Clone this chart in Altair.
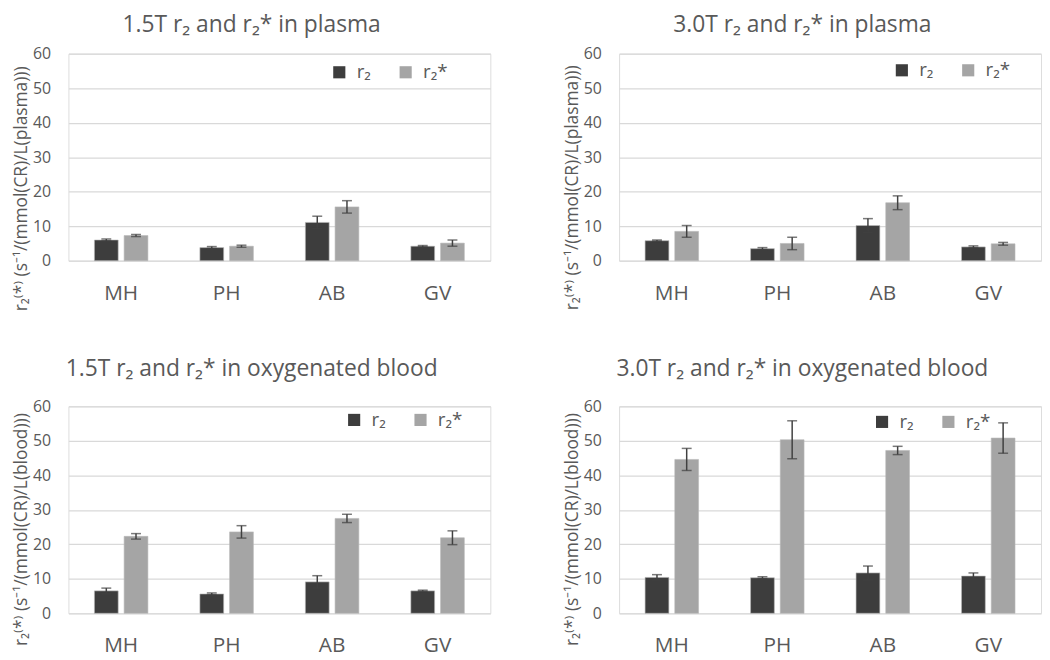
import altair as alt
import pandas as pd

categories = ["MH", "PH", "AB", "GV"]
series_names = ["r₂", "r₂*"]

titles = [
    "1.5T r₂ and r₂* in plasma",
    "3.0T r₂ and r₂* in plasma",
    "1.5T r₂ and r₂* in oxygenated blood",
    "3.0T r₂ and r₂* in oxygenated blood",
]
y_titles = [
    "r₂⁽*⁾ (s⁻¹/(mmol(CR)/L(plasma)))",
    "r₂⁽*⁾ (s⁻¹/(mmol(CR)/L(plasma)))",
    "r₂⁽*⁾ (s⁻¹/(mmol(CR)/L(blood)))",
    "r₂⁽*⁾ (s⁻¹/(mmol(CR)/L(blood)))",
]
y_ticks = [0, 10, 20, 30, 40, 50, 60]

# 1.5T plasma
p15_r2 = [6.0, 3.8, 11.1, 4.2]
p15_r2_err = [0.3, 0.3, 1.8, 0.2]
p15_r2s = [7.3, 4.2, 15.6, 5.1]
p15_r2s_err = [0.3, 0.3, 1.8, 0.9]
# 3.0T plasma
p30_r2 = [5.8, 3.5, 10.2, 4.0]
p30_r2_err = [0.2, 0.3, 2.0, 0.3]
p30_r2s = [8.5, 5.0, 16.8, 4.9]
p30_r2s_err = [1.7, 1.8, 2.0, 0.4]
# 1.5T oxygenated blood
b15_r2 = [6.5, 5.6, 9.1, 6.5]
b15_r2_err = [0.8, 0.3, 1.8, 0.2]
b15_r2s = [22.3, 23.6, 27.5, 21.9]
b15_r2s_err = [0.8, 1.8, 1.2, 2.0]
# 3.0T oxygenated blood
b30_r2 = [10.4, 10.3, 11.7, 10.8]
b30_r2_err = [0.8, 0.3, 2.0, 0.9]
b30_r2s = [44.6, 50.3, 47.2, 50.8]
b30_r2s_err = [3.2, 5.5, 1.2, 4.4]

panels = [
    (p15_r2, p15_r2_err, p15_r2s, p15_r2s_err),
    (p30_r2, p30_r2_err, p30_r2s, p30_r2s_err),
    (b15_r2, b15_r2_err, b15_r2s, b15_r2s_err),
    (b30_r2, b30_r2_err, b30_r2s, b30_r2s_err),
]

legend_pos = [(264, 9), (276, 7), (279, 4), (256, 6)]
title_y = [136, 135, 124, 124]
title_off = [9, 9, 18, 18]

FONT = "Open Sans"
TXT = "#595959"
W, H = 426, 209


def make_panel(i):
    r2, r2e, r2s, r2se = panels[i]
    rows = []
    for k, c in enumerate(categories):
        rows.append({"cat": c, "series": series_names[0], "value": r2[k],
                     "lo": r2[k] - r2e[k], "hi": r2[k] + r2e[k]})
        rows.append({"cat": c, "series": series_names[1], "value": r2s[k],
                     "lo": r2s[k] - r2se[k], "hi": r2s[k] + r2se[k]})
    df = pd.DataFrame(rows)
    lx, ly = legend_pos[i]

    xaxis = alt.Axis(labelAngle=0, labelFontSize=21, labelColor=TXT,
                     labelFont=FONT, labelPadding=22, ticks=False,
                     domain=False, grid=False, title=None)
    yaxis = alt.Axis(values=y_ticks, ticks=False, domain=False,
                     labelFontSize=16, labelColor=TXT, labelFont=FONT,
                     labelPadding=18, labelOverlap=False,
                     grid=True, gridColor="#d9d9d9", gridWidth=1.2,
                     title=y_titles[i], titleFontSize=17.5, titleFont=FONT,
                     titleColor=TXT, titleFontWeight="normal",
                     titleX=-47, titleY=title_y[i],
                     titleBaseline="middle", titleAngle=270)
    xscale = alt.Scale(paddingInner=0.493, paddingOuter=0.2465)
    yscale = alt.Scale(domain=[0, 60], nice=False)

    def X():
        return alt.X("cat:N", sort=categories, scale=xscale, axis=xaxis)

    def XO():
        return alt.XOffset("series:N", sort=series_names,
                           scale=alt.Scale(paddingInner=0.2, paddingOuter=0))

    color = alt.Color("series:N", sort=series_names,
                      scale=alt.Scale(domain=series_names,
                                      range=["#3d3d3d", "#a5a5a5"]),
                      legend=alt.Legend(title=None, orient="none",
                                        legendX=lx, legendY=ly,
                                        direction="horizontal",
                                        symbolType="square", symbolSize=150,
                                        symbolStrokeWidth=0,
                                        labelFontSize=19, labelFont=FONT,
                                        labelColor=TXT, labelOffset=8,
                                        columnPadding=25, padding=0))
    base = alt.Chart(df)
    bars = base.mark_bar(stroke="#b8b8b8", strokeWidth=0.6).encode(
        x=X(), xOffset=XO(),
        y=alt.Y("value:Q", scale=yscale, axis=yaxis), color=color)
    rules = base.mark_rule(color="#404040", strokeWidth=1.5).encode(
        x=X(), xOffset=XO(),
        y=alt.Y("lo:Q", scale=yscale, axis=yaxis), y2="hi:Q")
    cap_lo = base.mark_tick(color="#404040", thickness=1.5, size=10,
                            orient="horizontal").encode(
        x=X(), xOffset=XO(),
        y=alt.Y("lo:Q", scale=yscale, axis=yaxis))
    cap_hi = base.mark_tick(color="#404040", thickness=1.5, size=10,
                            orient="horizontal").encode(
        x=X(), xOffset=XO(),
        y=alt.Y("hi:Q", scale=yscale, axis=yaxis))
    return alt.layer(bars, rules, cap_lo, cap_hi).properties(
        width=W, height=H,
        title=alt.TitleParams(titles[i], fontSize=23, font=FONT, color=TXT,
                              fontWeight="normal", anchor="middle",
                              frame="bounds", offset=title_off[i]))


top = alt.hconcat(make_panel(0), make_panel(1), spacing=72).resolve_scale(
    color="independent")
bottom = alt.hconcat(make_panel(2), make_panel(3), spacing=72).resolve_scale(
    color="independent")
chart = alt.vconcat(top, bottom, spacing=45).resolve_scale(
    color="independent"
).properties(
    padding={"left": 4, "top": 2, "right": 0, "bottom": 0}
).configure_view(stroke=None).configure(background="white")

chart.save("out.html", embed_options={"renderer": "svg", "actions": False})
